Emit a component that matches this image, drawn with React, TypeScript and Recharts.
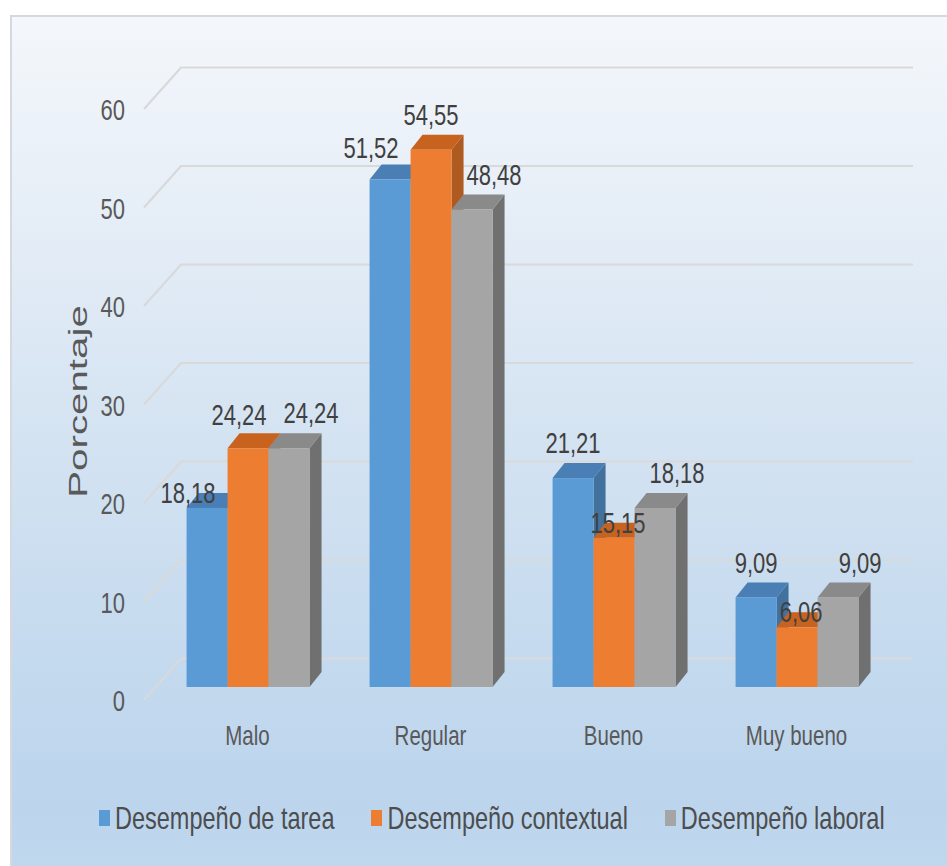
import React from 'react';
import { BarChart, Bar, XAxis, YAxis, CartesianGrid, Legend, LabelList, Label } from 'recharts';

// Categories and percentage values per series
const categorias = ['Malo', 'Regular', 'Bueno', 'Muy bueno'];
const desempenoTarea = [18.18, 51.52, 21.21, 9.09];
const desempenoContextual = [24.24, 54.55, 15.15, 6.06];
const desempenoLaboral = [24.24, 48.48, 18.18, 9.09];
const yTicks = [0, 10, 20, 30, 40, 50, 60];

const series = [
  { key: 'tarea', name: 'Desempeño de tarea', values: desempenoTarea, front: '#5b9bd5', top: '#4a7fb6', side: '#41719c' },
  { key: 'contextual', name: 'Desempeño contextual', values: desempenoContextual, front: '#ed7d31', top: '#c8621f', side: '#ae5a21' },
  { key: 'laboral', name: 'Desempeño laboral', values: desempenoLaboral, front: '#a5a5a5', top: '#8a8a8a', side: '#707070' },
];

const rows = categorias.map((categoria, i) => ({
  categoria,
  tarea: desempenoTarea[i],
  contextual: desempenoContextual[i],
  laboral: desempenoLaboral[i],
}));

// 3D depth offset of the columns
const DX = 12;
const DY = 15;

const FONT = "'Liberation Sans', Arial, sans-serif";
// tall, condensed look of the text
const STRETCH = 1.3;

const fmt = (v: number) => v.toFixed(2).replace('.', ',');

const TallText = ({ x, y, anchor = 'middle', size, fill, sy = STRETCH, children }: any) => (
  <text
    transform={`translate(${x},${y}) scale(1,${sy})`}
    x={0}
    y={0}
    textAnchor={anchor}
    dominantBaseline="central"
    fontFamily={FONT}
    fontSize={size}
    fill={fill}
  >
    {children}
  </text>
);

const makeShape = (s: typeof series[number]) => (props: any) => {
  const { x, y, width, height } = props;
  if (width == null || height == null) return null;
  const r = x + width;
  const b = y + height;
  return (
    <g>
      <polygon points={`${r},${y} ${r + DX},${y - DY} ${r + DX},${b - DY} ${r},${b}`} fill={s.side} />
      <polygon points={`${x},${y} ${x + DX},${y - DY} ${r + DX},${y - DY} ${r},${y}`} fill={s.top} />
      <rect x={x} y={y} width={width} height={height} fill={s.front} />
    </g>
  );
};

// Value labels: placed above the column, nudged aside when a neighbour column is taller
const makeLabel = (si: number) => (props: any) => {
  const vb = props.viewBox || props;
  const x = vb.x ?? props.x;
  const y = vb.y ?? props.y;
  const width = vb.width ?? props.width;
  let index = props.index;
  if (index == null) index = series[si].values.indexOf(Number(props.value));
  const v = series[si].values[index];
  const prev = si > 0 ? series[si - 1].values[index] : undefined;
  const next = si < series.length - 1 ? series[si + 1].values[index] : undefined;
  let cx = x + width / 2;
  let cy = y - 35;
  if (next === undefined) {
    cx += 22;
  } else if (prev === undefined) {
    if (next > v) {
      cx -= 19;
      cy = next - v > 4 ? y - 15 : y - 32;
    }
  } else if (prev > v && next > v) {
    cx += 4;
    cy = y - 15;
  } else if (next === v) {
    cx -= 9;
    cy = y - 33;
  }
  return (
    <TallText x={cx} y={cy} size={22} fill="#404040">
      {fmt(v)}
    </TallText>
  );
};

// Perspective grid line: short diagonal on the side wall, then across the back wall
const GridLine = (props: any) => {
  const { x1, x2, y1 } = props;
  const back = y1 - 28.5;
  const d = `M${x1 - 12},${y1 + 13} L${x1 + 25},${back} L${x2 + 25},${back}`;
  return <path key={`g-${y1}`} d={d} fill="none" stroke="#d9d9d9" strokeWidth={2.2} />;
};

const YTick = (props: any) => {
  const { x, y, payload } = props;
  return (
    <TallText x={x - 31} y={y + 14} anchor="end" size={22} fill="#595959">
      {payload.value}
    </TallText>
  );
};

const XTick = (props: any) => {
  const { x, y, payload } = props;
  return (
    <TallText x={x} y={y + 48} size={20.5} sy={1.35} fill="#595959">
      {payload.value}
    </TallText>
  );
};

const AxisTitle = (props: any) => {
  const vb = props.viewBox || { x: 0, y: 96, width: 156, height: 591 };
  const cx = vb.x + 78;
  const cy = vb.y + vb.height / 2 + 10;
  return (
    <text
      transform={`translate(${cx},${cy}) rotate(-90) scale(1.55,1)`}
      textAnchor="middle"
      dominantBaseline="central"
      fontFamily={FONT}
      fontSize={26}
      fill="#595959"
    >
      Porcentaje
    </text>
  );
};

const LegendContent = () => (
  <div style={{ display: 'flex', alignItems: 'center', gap: 37, fontFamily: FONT, fontSize: 23.5, color: '#4d4d4d', whiteSpace: 'nowrap', lineHeight: '36px' }}>
    {series.map((s) => (
      <div key={s.key} style={{ display: 'flex', alignItems: 'center' }}>
        <span style={{ display: 'inline-block', width: 11, height: 16, background: s.front, marginRight: 5 }} />
        <span style={{ display: 'inline-block', transform: 'scaleY(1.37)' }}>{s.name}</span>
      </div>
    ))}
  </div>
);

export default function App() {
  return (
    <div style={{ position: 'absolute', left: 0, top: 0, width: 947, height: 866, overflow: 'hidden', background: '#ffffff' }}>
      <div
        style={{
          position: 'absolute',
          left: 10,
          top: 15,
          width: 960,
          height: 880,
          borderLeft: '2px solid #d5d9dd',
          borderTop: '2px solid #d5d9dd',
          background: 'linear-gradient(to bottom, #f4f7fb 0%, #e6eef7 22%, #d4e3f2 48%, #c3d9ee 75%, #bcd5ed 90%, #c2d9ee 100%)',
        }}
      />
      <div style={{ position: 'absolute', left: 0, top: 0 }}>
        <BarChart
          width={947}
          height={866}
          data={rows}
          margin={{ top: 96, right: 59, bottom: 129, left: 0 }}
          barCategoryGap="16.7%"
          barGap={0}
        >
          <CartesianGrid vertical={false} horizontal={(p: any) => <GridLine {...p} />} />
          <XAxis dataKey="categoria" axisLine={false} tickLine={false} tickSize={0} tickMargin={0} height={50} tick={<XTick />} interval={0} />
          <YAxis
            domain={[0, 60]}
            ticks={yTicks}
            axisLine={false}
            tickLine={false}
            tickSize={0}
            tickMargin={0}
            width={156}
            tick={<YTick />}
            allowDataOverflow
          >
            <Label content={<AxisTitle />} />
          </YAxis>
          <Legend
            layout="horizontal"
            verticalAlign="middle"
            align="center"
            wrapperStyle={{ top: 800, left: 99, width: 840, height: 36 }}
            content={<LegendContent />}
          />
          {series.map((s, si) => (
            <Bar key={s.key} dataKey={s.key} name={s.name} fill={s.front} shape={makeShape(s)} isAnimationActive={false}>
              <LabelList dataKey={s.key} content={makeLabel(si)} />
            </Bar>
          ))}
        </BarChart>
      </div>
    </div>
  );
}
